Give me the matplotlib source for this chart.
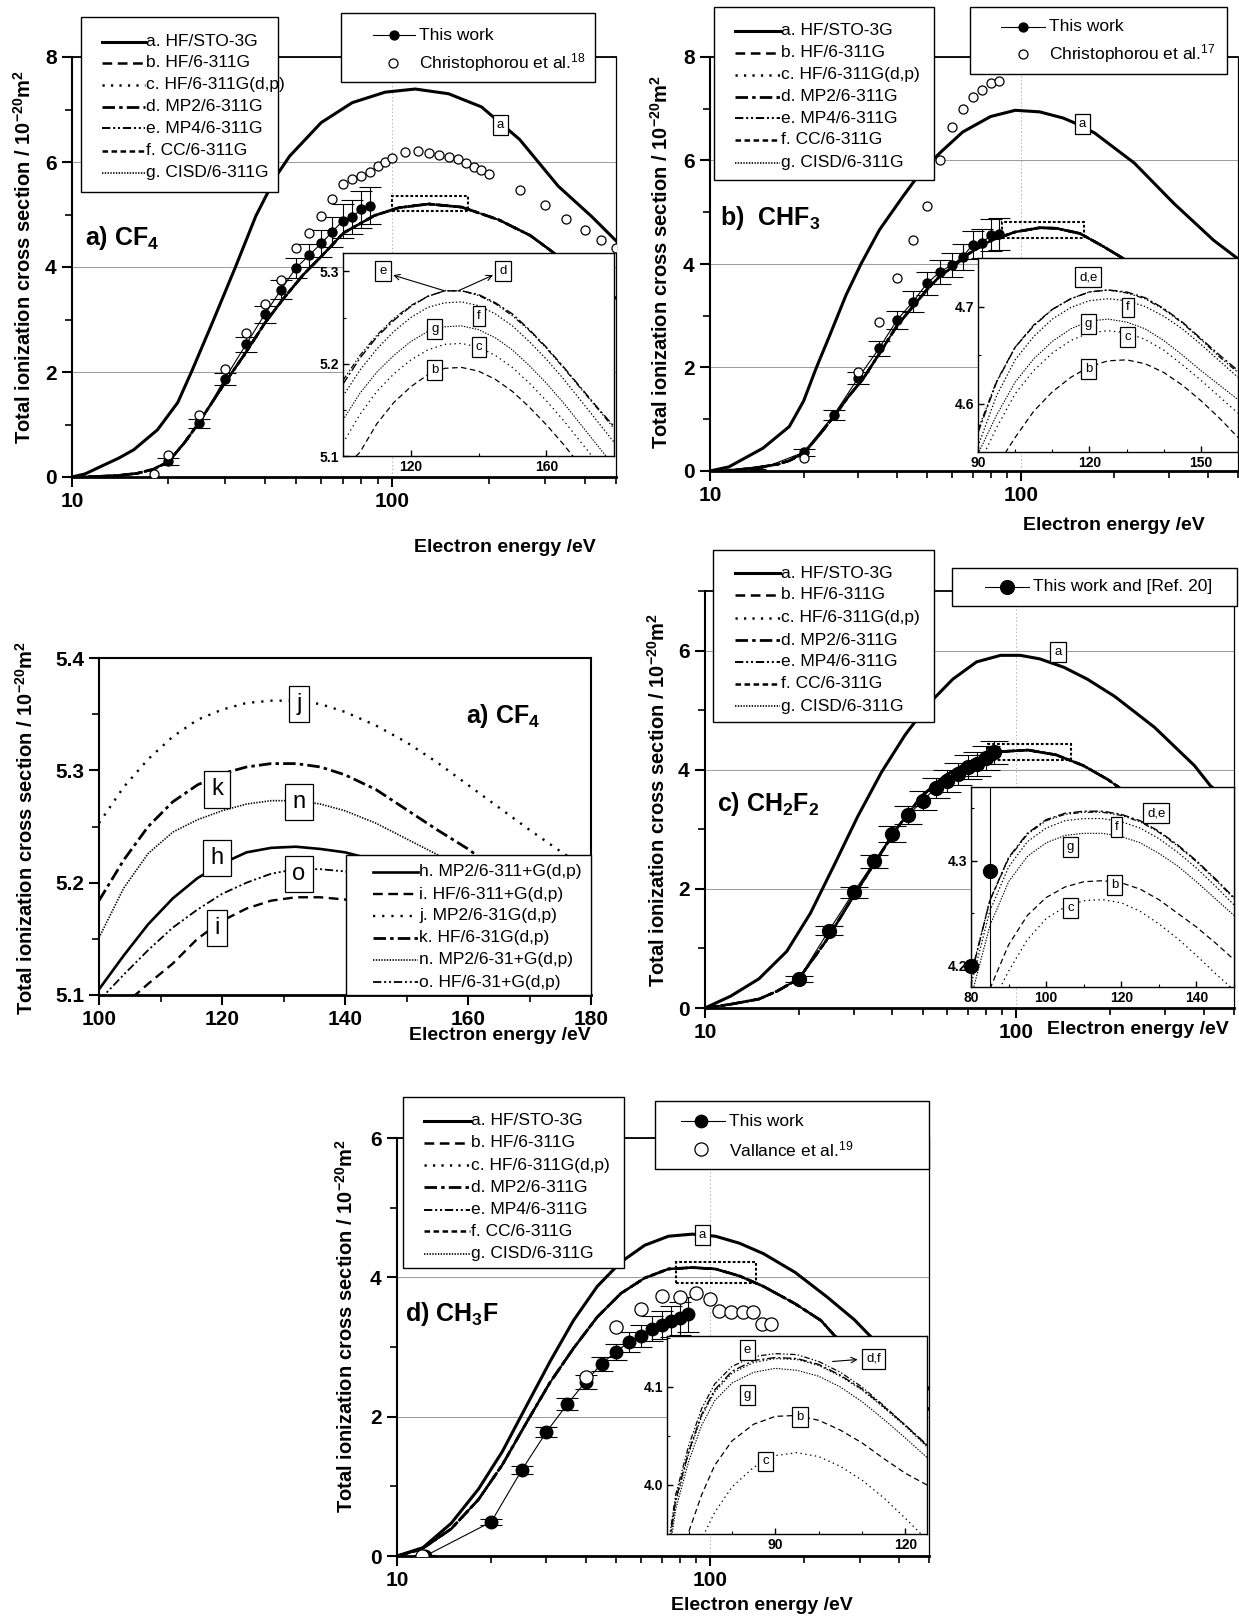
import matplotlib
matplotlib.use("Agg")
import matplotlib.pyplot as plt
from matplotlib.lines import Line2D
from matplotlib.patches import Rectangle
from matplotlib.ticker import FixedLocator, FixedFormatter, NullFormatter, FormatStrFormatter

plt.rcParams['font.family'] = ['Liberation Sans', 'DejaVu Sans']
plt.rcParams['font.weight'] = 'bold'
plt.rcParams['mathtext.default'] = 'regular'
plt.rcParams['lines.scale_dashes'] = False

# ---------------- data ----------------
# a) CF4
A_Ea = [10, 11, 12.3, 14, 15.6, 18.5, 21.4, 23.6, 27.4, 32.4, 37.5, 43.4, 47.8, 60, 75, 95, 118, 150, 190, 250, 330, 420, 500]
A_a = [0, 0.06, 0.2, 0.36, 0.52, 0.9, 1.42, 2.0, 2.93, 4.0, 4.97, 5.73, 6.11, 6.75, 7.13, 7.33, 7.39, 7.3, 7.05, 6.43, 5.54, 4.96, 4.5]
A_Ef = [10, 12, 14, 16, 18, 20, 22.5, 24.8, 30, 34.8, 40, 45.5, 52.7, 60.9, 70.5, 88, 105, 130, 165, 215, 270, 310, 400, 500]
A_fam = [0, 0.01, 0.03, 0.07, 0.15, 0.29, 0.66, 1.02, 1.79, 2.36, 2.93, 3.38, 3.85, 4.24, 4.65, 4.98, 5.13, 5.2, 5.14, 4.9, 4.6, 4.33, 3.8, 3.4]
A_work_E = [20, 25, 30, 35, 40, 45, 50, 55, 60, 65, 70, 75, 80, 85]
A_work = [0.3, 1.02, 1.87, 2.53, 3.1, 3.57, 3.98, 4.22, 4.45, 4.67, 4.88, 4.95, 5.1, 5.17]
A_work_err = [0.07, 0.09, 0.11, 0.14, 0.16, 0.18, 0.19, 0.22, 0.25, 0.28, 0.32, 0.33, 0.35, 0.35]
A_ref_E = [18, 20, 25, 30, 35, 40, 45, 50, 55, 60, 65, 70, 75, 80, 85, 90, 95, 100, 110, 120, 130, 140,
           150, 160, 170, 180, 190, 200, 250, 300, 350, 400, 450, 500]
A_ref = [0.05, 0.42, 1.18, 2.05, 2.75, 3.3, 3.75, 4.36, 4.65, 4.98, 5.29, 5.59, 5.68, 5.74, 5.81, 5.92, 6.0,
         6.08, 6.19, 6.21, 6.18, 6.14, 6.1, 6.05, 5.99, 5.9, 5.85, 5.78, 5.46, 5.18, 4.92, 4.71, 4.52, 4.36]
A_inE = [100, 105, 110, 115, 120, 125, 130, 135, 140, 145, 150, 155, 160, 165, 170, 175, 180]
A_in = {
    'b': [5.086, 5.104, 5.135, 5.158, 5.175, 5.188, 5.195, 5.196, 5.192, 5.183, 5.17, 5.153, 5.134, 5.113, 5.09, 5.066, 5.042],
    'c': [5.114, 5.145, 5.17, 5.189, 5.204, 5.215, 5.221, 5.222, 5.218, 5.209, 5.196, 5.179, 5.16, 5.139, 5.116, 5.093, 5.07],
    'd': [5.178, 5.206, 5.229, 5.247, 5.262, 5.273, 5.279, 5.279, 5.275, 5.266, 5.254, 5.237, 5.218, 5.197, 5.175, 5.153, 5.132],
    'e': [5.182, 5.209, 5.231, 5.249, 5.263, 5.273, 5.279, 5.279, 5.274, 5.265, 5.252, 5.236, 5.217, 5.196, 5.174, 5.152, 5.13],
    'f': [5.165, 5.193, 5.216, 5.235, 5.25, 5.261, 5.266, 5.267, 5.263, 5.254, 5.241, 5.224, 5.205, 5.184, 5.161, 5.138, 5.115],
    'g': [5.139, 5.168, 5.191, 5.209, 5.224, 5.235, 5.24, 5.241, 5.237, 5.228, 5.215, 5.198, 5.179, 5.158, 5.135, 5.112, 5.089],
}

# b) CHF3
B_Ea = [10, 11.5, 14.8, 18, 20, 22, 24.2, 27.4, 30.6, 35.1, 41.7, 48.3, 55, 65, 80, 96, 115, 137, 154, 173, 232, 311, 417, 500]
B_a = [0, 0.08, 0.44, 0.86, 1.35, 2.0, 2.6, 3.4, 4.0, 4.66, 5.3, 5.82, 6.15, 6.55, 6.85, 6.97, 6.94, 6.82, 6.69, 6.53, 5.95, 5.17, 4.46, 4.1]
B_Ef = [10, 12, 14, 16.5, 18, 20, 22.5, 25, 28, 31, 35, 40, 44.7, 50, 55, 60, 68, 80, 96, 115, 130, 155, 183, 212, 300, 500]
B_fam = [0, 0.02, 0.06, 0.13, 0.2, 0.34, 0.7, 1.05, 1.45, 1.77, 2.26, 2.81, 3.16, 3.51, 3.77, 3.93, 4.2, 4.45, 4.62, 4.7,
         4.69, 4.59, 4.35, 4.12, 3.5, 2.6]
B_work_E = [14, 20, 25, 30, 35, 40, 45, 50, 55, 60, 65, 70, 75, 80, 85]
B_work = [0.0, 0.36, 1.08, 1.8, 2.37, 2.92, 3.27, 3.63, 3.85, 3.98, 4.14, 4.37, 4.4, 4.56, 4.58]
B_work_err = [0.03, 0.07, 0.1, 0.12, 0.15, 0.17, 0.2, 0.22, 0.23, 0.24, 0.25, 0.27, 0.28, 0.3, 0.3]
B_ref_E = [20, 30, 35, 40, 45, 50, 55, 60, 65, 70, 75, 80, 85]
B_ref = [0.25, 1.92, 2.87, 3.72, 4.46, 5.12, 6.0, 6.65, 6.99, 7.23, 7.36, 7.5, 7.53]
B_inE = [90, 95, 100, 105, 110, 115, 120, 125, 130, 135, 140, 145, 150, 155, 160]
B_in = {
    'b': [4.49, 4.535, 4.565, 4.592, 4.612, 4.627, 4.638, 4.644, 4.645, 4.641, 4.632, 4.619, 4.603, 4.585, 4.565],
    'c': [4.535, 4.575, 4.61, 4.634, 4.652, 4.665, 4.673, 4.675, 4.673, 4.666, 4.655, 4.64, 4.624, 4.607, 4.59],
    'd': [4.57, 4.622, 4.658, 4.68, 4.697, 4.708, 4.715, 4.717, 4.715, 4.709, 4.698, 4.684, 4.667, 4.65, 4.634],
    'e': [4.573, 4.623, 4.658, 4.681, 4.697, 4.708, 4.715, 4.717, 4.714, 4.708, 4.697, 4.683, 4.666, 4.648, 4.632],
    'f': [4.556, 4.608, 4.645, 4.669, 4.687, 4.699, 4.706, 4.708, 4.706, 4.7, 4.69, 4.677, 4.661, 4.644, 4.627],
    'g': [4.548, 4.588, 4.622, 4.646, 4.664, 4.677, 4.685, 4.687, 4.684, 4.677, 4.665, 4.65, 4.634, 4.619, 4.604],
}

# c) CH2F2
C_Ea = [10, 12.1, 14.9, 18.3, 21.8, 26, 30.9, 36.9, 44, 52.4, 62.5, 74.5, 89, 103, 119, 142, 169, 207, 278, 373, 420, 500]
C_a = [0, 0.2, 0.49, 0.95, 1.59, 2.4, 3.21, 3.96, 4.59, 5.11, 5.52, 5.81, 5.92, 5.92, 5.86, 5.72, 5.52, 5.23, 4.71, 4.07, 3.73, 3.4]
C_Ef = [10, 12, 14.9, 17, 20, 24.5, 30, 35.8, 41.5, 49.5, 59, 70.3, 86.3, 109, 134, 164, 196, 214, 300, 500]
C_fam = [0, 0.06, 0.15, 0.28, 0.49, 1.13, 1.88, 2.51, 3.03, 3.55, 3.9, 4.13, 4.3, 4.33, 4.25, 4.07, 3.84, 3.7, 3.1, 2.4]
C_work_E = [20, 25, 30, 35, 40, 45, 50, 55, 60, 65, 70, 75, 80, 85]
C_work = [0.49, 1.3, 1.94, 2.46, 2.92, 3.24, 3.48, 3.69, 3.81, 3.93, 4.04, 4.1, 4.2, 4.29]
C_work_err = [0.05, 0.08, 0.09, 0.11, 0.13, 0.15, 0.16, 0.17, 0.18, 0.19, 0.2, 0.2, 0.2, 0.2]
C_inE = [80, 85, 90, 95, 100, 105, 110, 115, 120, 125, 130, 135, 140, 145, 150]
C_in = {
    'b': [4.13, 4.178, 4.22, 4.248, 4.265, 4.275, 4.28, 4.281, 4.279, 4.273, 4.263, 4.25, 4.237, 4.222, 4.206],
    'c': [4.12, 4.16, 4.195, 4.225, 4.245, 4.256, 4.262, 4.263, 4.26, 4.252, 4.24, 4.226, 4.21, 4.193, 4.177],
    'd': [4.19, 4.262, 4.303, 4.326, 4.339, 4.345, 4.347, 4.347, 4.344, 4.338, 4.328, 4.315, 4.3, 4.283, 4.265],
    'e': [4.192, 4.262, 4.302, 4.325, 4.338, 4.344, 4.346, 4.346, 4.343, 4.337, 4.327, 4.314, 4.299, 4.282, 4.264],
    'f': [4.182, 4.252, 4.294, 4.318, 4.331, 4.338, 4.34, 4.34, 4.337, 4.331, 4.321, 4.308, 4.293, 4.276, 4.258],
    'g': [4.17, 4.238, 4.28, 4.304, 4.317, 4.324, 4.326, 4.326, 4.323, 4.317, 4.307, 4.295, 4.28, 4.264, 4.248],
}

# d) CH3F
D_Ea = [10, 12.1, 14.9, 18.2, 21.7, 25.8, 30.8, 36.6, 43.6, 51.9, 61.8, 73.6, 87.7, 104, 124, 148, 187, 236, 289, 324, 400, 500]
D_a = [0, 0.12, 0.47, 0.96, 1.5, 2.14, 2.79, 3.38, 3.87, 4.22, 4.46, 4.59, 4.62, 4.59, 4.49, 4.34, 4.07, 3.72, 3.39, 3.16, 2.8, 2.4]
D_Ef = [10, 12, 14.9, 18.2, 21.7, 25.8, 30.8, 36.6, 43.6, 51.9, 61.8, 73.6, 87.7, 104, 124, 148, 187, 226, 250, 300, 400, 500]
D_fam = [0, 0.1, 0.39, 0.81, 1.31, 1.9, 2.49, 2.98, 3.43, 3.77, 3.99, 4.12, 4.14, 4.12, 4.02, 3.87, 3.62, 3.38, 3.16, 2.9, 2.5, 2.1]
D_work_E = [12.3, 20, 25, 30, 35, 40, 45, 50, 55, 60, 65, 70, 75, 80, 85]
D_work = [0.0, 0.49, 1.23, 1.78, 2.18, 2.5, 2.76, 2.93, 3.07, 3.16, 3.26, 3.32, 3.37, 3.41, 3.47]
D_work_err = [0.02, 0.04, 0.06, 0.07, 0.09, 0.1, 0.1, 0.12, 0.14, 0.16, 0.18, 0.2, 0.22, 0.24, 0.25]
D_ref_E = [12, 40, 50, 60, 70, 80, 90, 100, 107, 117, 127, 137, 146, 157]
D_ref = [0.0, 2.57, 3.29, 3.54, 3.73, 3.72, 3.77, 3.69, 3.52, 3.5, 3.5, 3.5, 3.33, 3.33]
D_inE = [65, 67, 70, 73, 76, 80, 85, 90, 95, 100, 105, 110, 115, 120, 125]
D_in = {
    'b': [3.86, 3.9, 3.952, 3.99, 4.02, 4.045, 4.062, 4.07, 4.071, 4.066, 4.056, 4.043, 4.027, 4.012, 4.0],
    'c': [3.82, 3.86, 3.91, 3.945, 3.972, 3.998, 4.018, 4.03, 4.033, 4.029, 4.019, 4.005, 3.987, 3.966, 3.944],
    'd': [3.925, 3.985, 4.034, 4.072, 4.097, 4.116, 4.127, 4.13, 4.129, 4.123, 4.112, 4.098, 4.08, 4.061, 4.041],
    'e': [3.93, 3.99, 4.04, 4.078, 4.103, 4.121, 4.131, 4.134, 4.133, 4.126, 4.115, 4.1, 4.081, 4.061, 4.04],
    'f': [3.922, 3.982, 4.032, 4.07, 4.095, 4.114, 4.125, 4.129, 4.128, 4.122, 4.111, 4.097, 4.079, 4.06, 4.039],
    'g': [3.915, 3.975, 4.024, 4.061, 4.086, 4.104, 4.115, 4.119, 4.117, 4.111, 4.1, 4.085, 4.067, 4.048, 4.028],
}

# lower left: CF4 with other basis sets
E_E = [100, 104, 108, 112, 116, 120, 124, 128, 132, 136, 140, 145, 150, 155, 160, 165, 170, 175, 180]
E_curves = {
    'h': [5.105, 5.135, 5.163, 5.186, 5.204, 5.217, 5.227, 5.231, 5.232, 5.23, 5.227, 5.22, 5.21, 5.198, 5.184, 5.168, 5.15, 5.13, 5.11],
    'i': [5.07, 5.091, 5.11, 5.128, 5.15, 5.166, 5.177, 5.184, 5.187, 5.187, 5.185, 5.18, 5.172, 5.161, 5.148, 5.133, 5.116, 5.098, 5.08],
    'j': [5.253, 5.285, 5.31, 5.33, 5.345, 5.354, 5.36, 5.362, 5.362, 5.359, 5.352, 5.34, 5.325, 5.307, 5.287, 5.267, 5.247, 5.228, 5.21],
    'k': [5.184, 5.22, 5.25, 5.272, 5.287, 5.297, 5.303, 5.306, 5.306, 5.303, 5.296, 5.283, 5.265, 5.247, 5.23, 5.21, 5.19, 5.17, 5.15],
    'n': [5.151, 5.195, 5.226, 5.245, 5.256, 5.264, 5.27, 5.273, 5.273, 5.27, 5.264, 5.253, 5.239, 5.225, 5.21, 5.19, 5.17, 5.15, 5.13],
    'o': [5.095, 5.118, 5.14, 5.16, 5.176, 5.19, 5.2, 5.208, 5.212, 5.212, 5.21, 5.203, 5.193, 5.18, 5.165, 5.148, 5.13, 5.11, 5.09],
}
E_labels = {'h': 'h. MP2/6-311+G(d,p)', 'i': 'i. HF/6-311+G(d,p)', 'j': 'j. MP2/6-31G(d,p)',
            'k': 'k. HF/6-31G(d,p)', 'n': 'n. MP2/6-31+G(d,p)', 'o': 'o. HF/6-31+G(d,p)'}

METHODS = ['a. HF/STO-3G', 'b. HF/6-311G', 'c. HF/6-311G(d,p)', 'd. MP2/6-311G',
           'e. MP4/6-311G', 'f. CC/6-311G', 'g. CISD/6-311G']

# ---------------- styles ----------------
STY = {
    'a': dict(ls='-', lw=2.2),
    'b': dict(ls=(0, (7, 4)), lw=1.8),
    'c': dict(ls=(0, (1.6, 4.5)), lw=1.8),
    'd': dict(ls=(0, (9, 3, 2.5, 3)), lw=2.0),
    'e': dict(ls=(0, (6, 2, 1.5, 2, 1.5, 2)), lw=1.4),
    'f': dict(ls=(0, (4, 2.5)), lw=1.8),
    'g': dict(ls=(0, (1, 1)), lw=1.2),
}
ISTY = {
    'b': dict(ls=(0, (4, 2.5)), lw=0.9),
    'c': dict(ls=(0, (1, 2.5)), lw=0.9),
    'd': dict(ls=(0, (6, 2, 1.5, 2)), lw=1.0),
    'e': dict(ls=(0, (4, 1.5, 1, 1.5, 1, 1.5)), lw=0.9),
    'f': dict(ls=(0, (1, 1.5)), lw=0.9),
    'g': dict(ls=(0, (1, 1)), lw=0.8),
}
ESTY = {
    'h': dict(ls='-', lw=1.9),
    'i': dict(ls=(0, (7, 4)), lw=1.7),
    'j': dict(ls=(0, (1.6, 5)), lw=1.7),
    'k': dict(ls=(0, (9, 3, 2.5, 3)), lw=2.0),
    'n': dict(ls=(0, (1, 1)), lw=1.2),
    'o': dict(ls=(0, (6, 2, 1.5, 2, 1.5, 2)), lw=1.3),
}
LEGFONT = ['Liberation Sans Narrow', 'Liberation Sans', 'DejaVu Sans']

W, H = 1239, 1618
fig = plt.figure(figsize=(W / 100, H / 100), dpi=100)


def add_ax(l, t, r, b):
    return fig.add_axes([l / W, 1 - b / H, (r - l) / W, (b - t) / H])


def fx(x):
    return x / W


def fy(y):
    return 1 - y / H


def leg_box(l, t, r, b):
    fig.add_artist(Rectangle((fx(l), fy(b)), (r - l) / W, (b - t) / H, transform=fig.transFigure,
                             fc='white', ec='black', lw=1.0, zorder=10))


def leg_text(x, y, s, size=12.5):
    fig.text(fx(x), fy(y), s, ha='left', va='center', fontsize=size, fontweight='normal',
             family=LEGFONT, zorder=12)


def leg_line(x0, x1, y, sty):
    fig.add_artist(Line2D([fx(x0), fx(x1)], [fy(y), fy(y)], transform=fig.transFigure,
                          color='black', zorder=11, **sty))


def leg_marker(x, y, filled, ms):
    fig.add_artist(Line2D([fx(x)], [fy(y)], transform=fig.transFigure, ls='none', marker='o', ms=ms,
                          mfc='black' if filled else 'white', mec='black', mew=0.9, zorder=11))


def method_legend(box, rows, x0, x1, xt):
    leg_box(*box)
    for k, lab, y in zip('abcdefg', METHODS, rows):
        leg_line(x0, x1, y, STY[k])
        leg_text(xt, y, lab)


def style_spines(ax):
    ax.spines['bottom'].set_linewidth(2.0)
    ax.spines['left'].set_linewidth(1.5)
    ax.spines['top'].set_linewidth(1.3)
    ax.spines['right'].set_linewidth(0.9)


def main_panel(box, ymax, ymajor, yminor, Ea, ya, Ef, yf):
    ax = add_ax(*box)
    ax.set_xscale('log')
    ax.set_xlim(10, 500)
    ax.set_ylim(0, ymax)
    ax.xaxis.set_major_locator(FixedLocator([10, 100]))
    ax.xaxis.set_major_formatter(FixedFormatter(['10', '100']))
    ax.xaxis.set_minor_locator(FixedLocator([20, 30, 40, 50, 60, 70, 80, 90, 200, 300, 400, 500]))
    ax.xaxis.set_minor_formatter(NullFormatter())
    ax.yaxis.set_major_locator(FixedLocator(ymajor))
    ax.yaxis.set_major_formatter(FormatStrFormatter('%d'))
    ax.yaxis.set_minor_locator(FixedLocator(yminor))
    ax.tick_params(which='major', direction='out', length=7, width=1.5, labelsize=15, pad=4)
    ax.tick_params(which='minor', direction='out', length=5, width=1.2)
    ax.yaxis.grid(True, color='0.6', lw=0.7)
    ax.axvline(100, color='0.7', lw=0.7, ls=':')
    style_spines(ax)
    ax.plot(Ea, ya, color='black', zorder=3, **STY['a'])
    for k in 'bcdefg':
        ax.plot(Ef, yf, color='black', zorder=3, **STY[k])
    return ax


def inset(box, xlim, ylim, xmaj, xmin, ymaj, ymin, E, curves):
    ax = add_ax(*box)
    ax.set_facecolor('white')
    ax.set_xlim(*xlim)
    ax.set_ylim(*ylim)
    ax.set_xticks(xmaj)
    ax.set_xticks(xmin, minor=True)
    ax.set_yticks(ymaj)
    ax.set_yticks(ymin, minor=True)
    ax.yaxis.set_major_formatter(FormatStrFormatter('%.1f'))
    ax.tick_params(which='both', direction='in', labelsize=10, pad=3)
    ax.tick_params(which='major', length=4, width=1)
    ax.tick_params(which='minor', length=2.5, width=0.8)
    for s in ax.spines.values():
        s.set_linewidth(1.0)
    for k in 'bcdefg':
        ax.plot(E, curves[k], color='black', **ISTY[k])
    return ax


def tag(ax, x, y, s, size=9.5):
    ax.text(x, y, s, ha='center', va='center', fontsize=size, fontweight='normal', zorder=6,
            bbox=dict(boxstyle='square,pad=0.3', fc='white', ec='black', lw=0.9))


def work_points(ax, E, y, err, ms, cap):
    ax.errorbar(E, y, yerr=err, fmt='-o', color='black', lw=0.8, ms=ms, mfc='black', mec='black',
                capsize=cap, elinewidth=0.8, capthick=0.8, zorder=5)


def ref_points(ax, E, y, ms):
    ax.plot(E, y, ls='none', marker='o', ms=ms, mfc='white', mec='black', mew=0.9, zorder=6)


YLAB = r'Total ionization cross section / 10$^{-20}$m$^{2}$'
XLAB = 'Electron energy /eV'

# ---------------- panel a) CF4 ----------------
axA = main_panel((72, 57, 616, 477), 8, [0, 2, 4, 6, 8], [1, 3, 5, 7], A_Ea, A_a, A_Ef, A_fam)
work_points(axA, A_work_E, A_work, A_work_err, 6.5, 8)
ref_points(axA, A_ref_E, A_ref, 6.5)
axA.add_patch(Rectangle((100, 5.06), 73, 0.29, fill=False, ls=(0, (2, 1.5)), lw=1.5, zorder=4))
tag(axA, 218, 6.7, 'a')
axA.text(0.024, 0.57, r'a) CF$_4$', transform=axA.transAxes, fontsize=18, ha='left', va='center')
iA = inset((343, 253, 614, 456), (100, 180), (5.1, 5.32), [120, 160], [100, 140, 180],
           [5.1, 5.2, 5.3], [5.15, 5.25], A_inE, A_in)
tag(iA, 111.8, 5.3, 'e')
tag(iA, 147.2, 5.3, 'd')
tag(iA, 140.1, 5.252, 'f')
tag(iA, 127.1, 5.238, 'g')
tag(iA, 140.1, 5.218, 'c')
tag(iA, 127.1, 5.193, 'b')
iA.annotate('', xy=(114.8, 5.296), xytext=(130, 5.279), arrowprops=dict(arrowstyle='->', lw=0.8, shrinkA=0, shrinkB=0))
iA.annotate('', xy=(144.3, 5.296), xytext=(134, 5.279), arrowprops=dict(arrowstyle='->', lw=0.8, shrinkA=0, shrinkB=0))
method_legend((81, 17, 278, 192), [41.7, 62.7, 85, 106.7, 128.3, 150.7, 172.7], 102, 145, 146)
leg_box(341, 13, 595, 82)
leg_line(373, 415, 35, dict(lw=0.8))
leg_marker(394, 35, True, 6.5)
leg_text(419, 35, 'This work')
leg_marker(393, 63, False, 6.5)
leg_text(419, 63, r'Christophorou et al.$^{18}$')

# ---------------- panel b) CHF3 ----------------
axB = main_panel((710, 57, 1238, 471), 8, [0, 2, 4, 6, 8], [1, 3, 5, 7], B_Ea, B_a, B_Ef, B_fam)
work_points(axB, B_work_E, B_work, B_work_err, 6.5, 8)
ref_points(axB, B_ref_E, B_ref, 6.5)
axB.add_patch(Rectangle((87, 4.5), 73, 0.32, fill=False, ls=(0, (2, 1.5)), lw=1.5, zorder=4))
tag(axB, 158, 6.7, 'a')
axB.text(0.019, 0.61, r'b)  CHF$_3$', transform=axB.transAxes, fontsize=18, ha='left', va='center')
iB = inset((978, 258, 1238, 452), (90, 160), (4.55, 4.75), [90, 120, 150], [100, 110, 130, 140, 160],
           [4.6, 4.7], [4.65], B_inE, B_in)
tag(iB, 119.7, 4.73, 'd,e')
tag(iB, 130.3, 4.699, 'f')
tag(iB, 119.7, 4.682, 'g')
tag(iB, 130.3, 4.669, 'c')
tag(iB, 119.7, 4.636, 'b')
method_legend((714, 7, 934, 180), [30.7, 52.7, 75, 96.7, 118.3, 140, 162.7], 735, 780, 781)
leg_box(970, 7, 1227, 74)
leg_line(1001, 1045, 26.7, dict(lw=0.8))
leg_marker(1023, 26.7, True, 6.5)
leg_text(1049, 26.7, 'This work')
leg_marker(1023, 54, False, 6.5)
leg_text(1049, 54, r'Christophorou et al.$^{17}$')

# ---------------- lower left: CF4 basis sets ----------------
axE = add_ax(99, 658, 591, 995)
axE.set_xlim(100, 180)
axE.set_ylim(5.1, 5.4)
axE.set_xticks([100, 120, 140, 160, 180])
axE.set_xticks([110, 130, 150, 170], minor=True)
axE.set_yticks([5.1, 5.2, 5.3, 5.4])
axE.set_yticks([5.15, 5.25, 5.35], minor=True)
axE.yaxis.set_major_formatter(FormatStrFormatter('%.1f'))
axE.tick_params(which='major', direction='out', length=7, width=1.5, labelsize=15)
axE.tick_params(which='minor', direction='out', length=5, width=1.2)
for s in axE.spines.values():
    s.set_linewidth(1.5)
axE.spines['bottom'].set_linewidth(2.0)
for k in 'hijkno':
    axE.plot(E_E, E_curves[k], color='black', **ESTY[k])
for k, x, y in [('j', 132.5, 5.359), ('k', 119.2, 5.283), ('n', 132.5, 5.272),
                ('h', 119.2, 5.222), ('o', 132.5, 5.208), ('i', 119.2, 5.16)]:
    tag(axE, x, y, k, 17)
axE.text(165.8, 5.348, r'a) CF$_4$', fontsize=18, ha='center', va='center')
leg_box(346, 854.5, 591, 995)
for k, y in zip('hijkno', [871.7, 894, 915.9, 937.9, 959.7, 982]):
    leg_line(373, 418, y, ESTY[k])
    leg_text(419, y, E_labels[k])

# ---------------- panel c) CH2F2 ----------------
axC = main_panel((705, 591, 1234, 1008), 7, [0, 2, 4, 6], [1, 3, 5, 7], C_Ea, C_a, C_Ef, C_fam)
work_points(axC, C_work_E, C_work, C_work_err, 10, 10)
axC.add_patch(Rectangle((81, 4.16), 69, 0.28, fill=False, ls=(0, (2, 1.5)), lw=1.5, zorder=4))
tag(axC, 136, 5.98, 'a')
axC.text(0.023, 0.49, r'c) CH$_2$F$_2$', transform=axC.transAxes, fontsize=18, ha='left', va='center')
iC = inset((971, 787, 1234, 987), (80, 150), (4.18, 4.37), [80, 100, 120, 140], [90, 110, 130, 150],
           [4.2, 4.3], [4.25, 4.35], C_inE, C_in)
iC.errorbar(C_work_E[-2:], C_work[-2:], yerr=C_work_err[-2:], fmt='none', ecolor='black', elinewidth=0.8)
iC.plot(C_work_E[-2:], C_work[-2:], ls='none', marker='o', ms=10, color='black', clip_on=False, zorder=5)
tag(iC, 129.3, 4.345, 'd,e')
tag(iC, 118.7, 4.332, 'f')
tag(iC, 106.5, 4.313, 'g')
tag(iC, 118.2, 4.277, 'b')
tag(iC, 106.5, 4.255, 'c')
method_legend((713, 550, 934, 722), [573.4, 594.8, 617.6, 640, 662, 683.8, 706], 735, 780, 781)
leg_box(952, 568, 1237, 606)
leg_line(985, 1029, 587, dict(lw=0.8))
leg_marker(1007, 587, True, 10)
leg_text(1033, 587, 'This work and [Ref. 20]')

# ---------------- panel d) CH3F ----------------
axD = main_panel((397, 1138, 929, 1556), 6, [0, 2, 4, 6], [1, 3, 5], D_Ea, D_a, D_Ef, D_fam)
work_points(axD, D_work_E, D_work, D_work_err, 9, 8)
ref_points(axD, D_ref_E, D_ref, 9.5)
axD.add_patch(Rectangle((78, 3.92), 62, 0.3, fill=False, ls=(0, (2, 1.5)), lw=1.5, zorder=4))
tag(axD, 94.4, 4.61, 'a')
axD.text(0.015, 0.58, r'd) CH$_3$F', transform=axD.transAxes, fontsize=18, ha='left', va='center')
iD = inset((667, 1336, 927, 1534), (65, 125), (3.95, 4.152), [90, 120], [70, 80, 100, 110],
           [4.0, 4.1], [4.05, 4.15], D_inE, D_in)
tag(iD, 83.6, 4.138, 'e')
tag(iD, 112.7, 4.129, 'd,f')
tag(iD, 83.6, 4.092, 'g')
tag(iD, 95.7, 4.069, 'b')
tag(iD, 87.7, 4.024, 'c')
iD.annotate('', xy=(109.0, 4.128), xytext=(103.2, 4.126), arrowprops=dict(arrowstyle='->', lw=0.8, shrinkA=0, shrinkB=0))
method_legend((403, 1097, 624, 1268), [1120.5, 1142.9, 1165.2, 1187.2, 1209.9, 1231.2, 1253.5], 424, 470, 471)
leg_box(655, 1101, 929, 1169)
leg_line(681, 725, 1121, dict(lw=0.8))
leg_marker(701, 1121, True, 9)
leg_text(729, 1121, 'This work')
leg_marker(701, 1149, False, 9.5)
leg_text(729, 1149, r'Vallance et al.$^{19}$')

# ---------------- axis titles ----------------
for x, y in [(505, 548), (1114, 525), (500, 1036), (1138, 1030), (762, 1606)]:
    fig.text(fx(x), fy(y), XLAB, ha='center', va='center', fontsize=14)
for x, y in [(24, 257), (661, 262), (26, 828), (658, 800), (346, 1326)]:
    fig.text(fx(x), fy(y), YLAB, ha='center', va='center', rotation=90, fontsize=14.5)

fig.savefig('out.png', dpi=100, facecolor='white')
